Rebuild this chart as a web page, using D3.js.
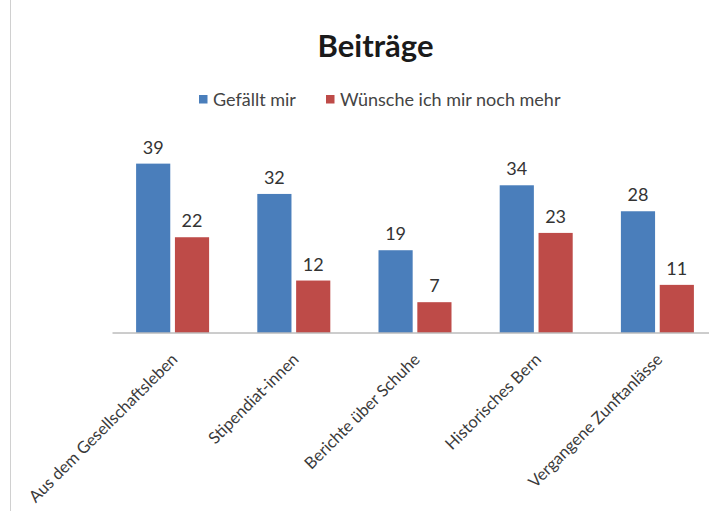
<!DOCTYPE html>
<html><head><meta charset="utf-8">
<script src="https://cdn.jsdelivr.net/npm/d3@7"></script>
<style>body{margin:0;background:#fff;} svg{display:block;font-family:Lato,"Open Sans",sans-serif;}</style>
</head><body>
<script>
const categories = ["Aus dem Gesellschaftsleben","Stipendiat-innen","Berichte über Schuhe","Historisches Bern","Vergangene Zunftanlässe"];
const seriesNames = ["Gefällt mir","Wünsche ich mir noch mehr"];
const gefaellt = [39,32,19,34,28];
const wuensche = [22,12,7,23,11];
const colors = ["#4a7ebb","#be4b48"];

const W=709,H=511;
const svg=d3.select("body").append("svg").attr("width",W).attr("height",H);
svg.append("rect").attr("width",W).attr("height",H).attr("fill","#fff");
svg.append("line").attr("x1",10.5).attr("x2",10.5).attr("y1",0).attr("y2",H).attr("stroke","#d0d0d0");

const base=332.5;
const x0=d3.scaleBand().domain(categories).range([112,718]).paddingInner(0).paddingOuter(0);
const x1=d3.scaleBand().domain(seriesNames).range([0,73]).paddingInner(0.12);
const y=d3.scaleLinear().domain([0,40]).range([base,base-173.2]);

const data=categories.map((c,i)=>({c,vals:[gefaellt[i],wuensche[i]]}));
const g=svg.selectAll("g.grp").data(data).join("g").attr("class","grp")
  .attr("transform",d=>`translate(${x0(d.c)+x0.bandwidth()/2-36.5},0)`);
g.selectAll("rect").data(d=>d.vals.map((v,k)=>({v,k}))).join("rect")
  .attr("x",d=>x1(seriesNames[d.k])).attr("width",x1.bandwidth())
  .attr("y",d=>y(d.v)).attr("height",d=>y(0)-y(d.v)).attr("fill",d=>colors[d.k]);
g.selectAll("text").data(d=>d.vals.map((v,k)=>({v,k}))).join("text")
  .attr("x",d=>x1(seriesNames[d.k])+x1.bandwidth()/2).attr("y",d=>y(d.v)-10)
  .attr("text-anchor","middle").attr("font-size",18).attr("fill","#333").text(d=>d.v);

// axis
const ax=svg.append("g").attr("transform",`translate(0,${base})`).call(d3.axisBottom(x0).tickSize(0).tickPadding(0));
ax.select(".domain").attr("stroke","#9a9a9a");
ax.selectAll(".tick text").attr("font-size",16.5).attr("fill","#3a3a3a").attr("font-family","Lato,sans-serif")
  .attr("text-anchor","end").attr("dy",0).attr("y",0)
  .attr("transform","translate(6,28) rotate(-45)");

// title
svg.append("text").attr("x",375.5).attr("y",57).attr("text-anchor","middle").attr("font-size",31).attr("font-weight","bold").attr("fill","#1a1a1a").text("Beiträge");

// legend
const leg=[{x:199,t:seriesNames[0],c:colors[0]},{x:326,t:seriesNames[1],c:colors[1]}];
const lg=svg.selectAll("g.leg").data(leg).join("g").attr("class","leg").attr("transform",d=>`translate(${d.x},95)`);
lg.append("rect").attr("width",8.5).attr("height",8.5).attr("y",0).attr("fill",d=>d.c);
lg.append("text").attr("x",14).attr("y",11).attr("font-size",18).attr("fill","#444").text(d=>d.t);
</script>
</body></html>
